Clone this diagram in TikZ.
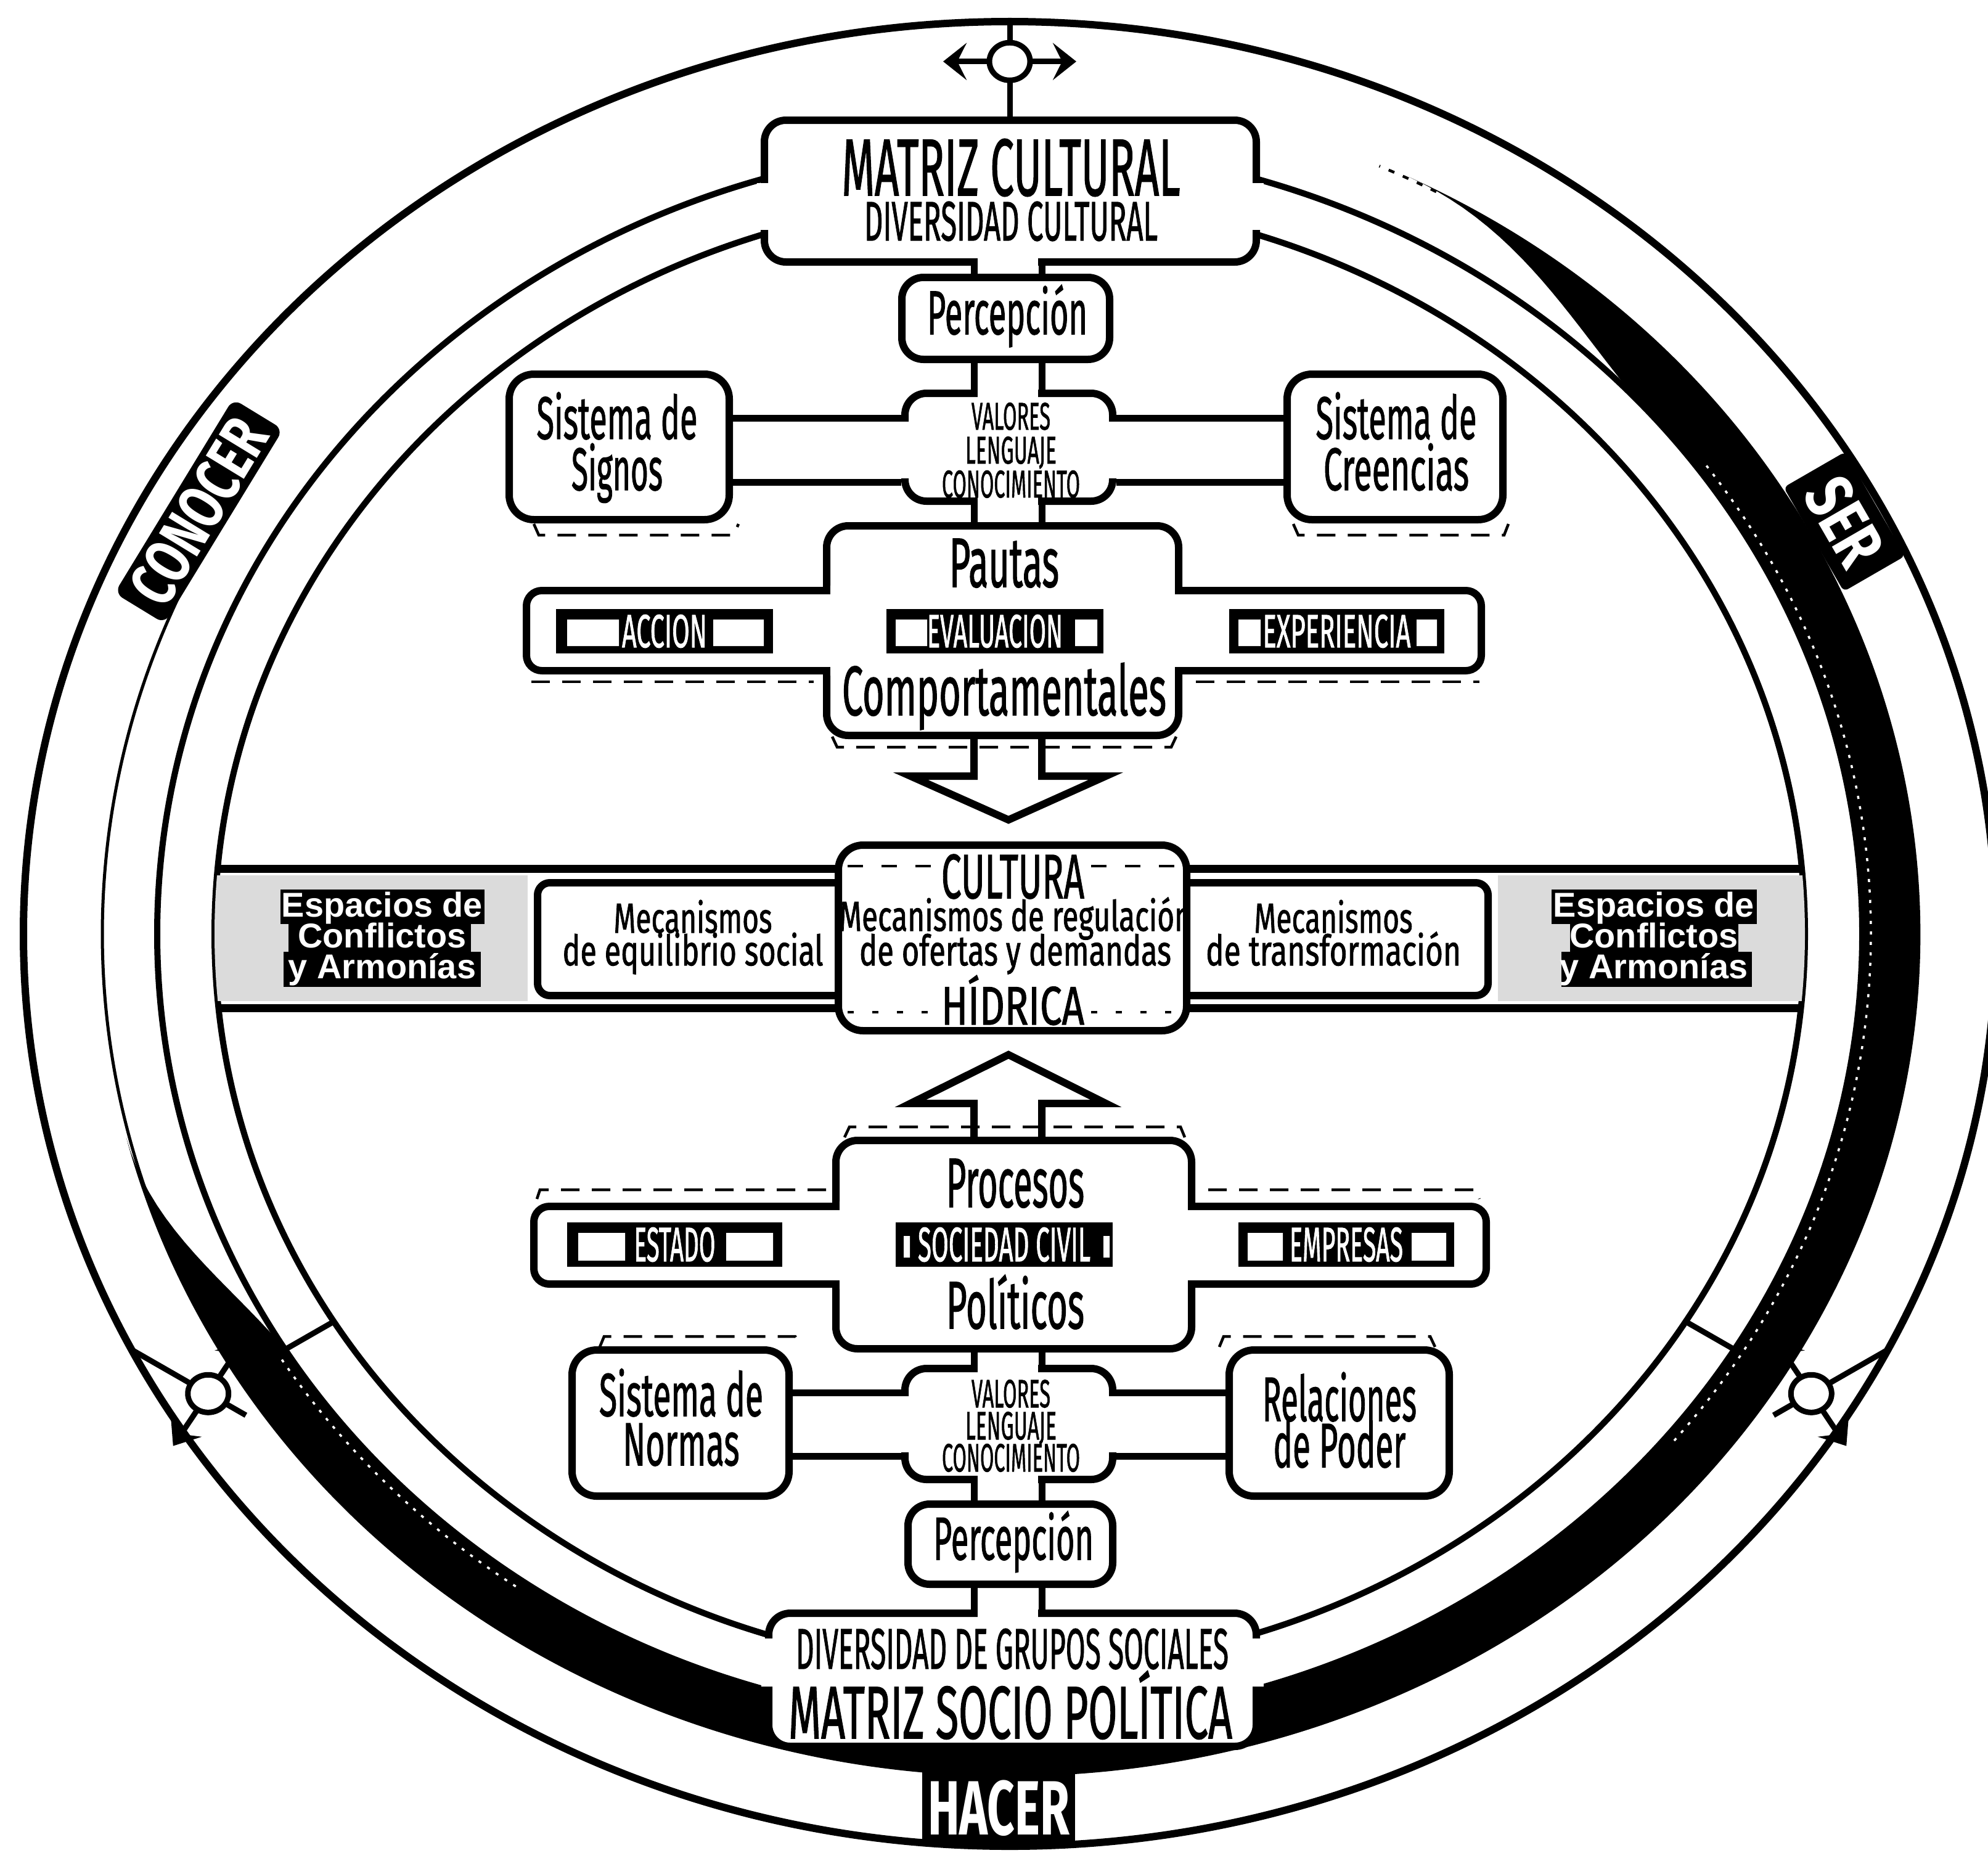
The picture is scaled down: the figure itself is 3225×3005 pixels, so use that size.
\documentclass[tikz,border=0pt]{standalone}
\usepackage{fontspec}
\usepackage{graphicx}
\setmainfont{Fira Sans}
\newfontfamily\cf[FakeBold=1.5]{Fira Sans}
\newfontfamily\arialf{Liberation Sans}
\usetikzlibrary{arrows.meta}
\newcommand\T[3]{\resizebox{#1mm}{\height}{\fontsize{#2pt}{#2pt}\selectfont\cf #3}}
\newcommand\TB[3]{\resizebox{#1mm}{\height}{\fontsize{#2pt}{#2pt}\selectfont\bfseries #3}}
\newcommand\mls[1]{\lineskiplimit=-100pt\baselineskip=#1\relax}
\begin{document}
\begin{tikzpicture}[x=0.1mm,y=-0.1mm,
  declare function={tA(\vv)=min(1,max(0,(64-\vv)/24)); tB(\vv)=min(1,max(0,(\vv+166)/20)); sm(\zz)=0.5-0.5*cos(180*\zz); tp(\vv)=sm(tA(\vv))*sm(tB(\vv));},
  box/.style={draw, fill=white, line width=1.2mm, rounded corners=3.5mm, inner sep=0pt},
  tag/.style={fill=black, text=white, inner sep=0pt, minimum height=7.2mm},
  tx/.style={inner sep=0pt, anchor=base},
  ml/.style={inner sep=0pt, anchor=base, align=center},
  pipe/.style={line width=1.1mm},
  ringl/.style={line width=1.0mm},
  shad/.style={line width=0.45mm, dash pattern=on 3mm off 2mm},
  sym/.style={line width=0.9mm},
  dbl/.style={line width=0.9mm, -{Stealth[length=3.8mm,width=6mm,inset=1.5mm]}},
]
\fill[white] (0,0) rectangle (3225,3005);
\useasboundingbox (0,0) rectangle (3225,3005);

% ---------------- ring ----------------
\begin{scope}[shift={(1638,1515)}, yscale=-0.925]
  \draw[line width=1.2mm] (0,0) circle (1600);
  \draw[ringl] (0,0) circle (1383);
  \draw[ringl] (0,0) circle (1290);
  \fill (64:1477) arc[start angle=64, end angle=-166, radius=1477] -- plot[domain=-166:64, samples=231] ({\x}:{1477-97*tp(\x)}) -- cycle;
  \draw[white, line width=0.35mm, dash pattern=on 0.5mm off 1.2mm] (36:1397) arc[start angle=36, end angle=-40, radius=1397];
  \draw[white, line width=0.35mm, dash pattern=on 0.5mm off 1.2mm] (-125:1397) arc[start angle=-125, end angle=-148, radius=1397];
  \draw[line width=0.5mm] (-160:1472) arc[start angle=-160, end angle=-205, radius=1472];
  \draw[line width=0.45mm, dash pattern=on 1mm off 1.5mm] (62:1474) arc[start angle=62, end angle=66, radius=1474];
  \draw[line width=0.9mm] (-31.8:1290) -- (-31.8:1383);
  \draw[line width=0.9mm] (-148.2:1290) -- (-148.2:1383);
  \foreach \ang/\nm in {90/symT, -148.2/symL, -31.8/symR} {
    \begin{scope}[shift={(\ang:1530)}, rotate=\ang-90]
      \draw[sym] (0,-150) -- (0,72);
      \draw[sym, fill=white] (0,0) circle (33);
      \draw[dbl] (33,0) -- (108,0);
      \draw[dbl] (-33,0) -- (-108,0);
      \coordinate (\nm) at (0,0);
    \end{scope}
  }
  \node[fill=black, text=white, rounded corners=1.5mm, minimum width=36.9mm, minimum height=9.5mm, inner sep=0pt, rotate=58.6] (conocer) at (150.6:1510) {\TB{33}{29.7}{CONOCER}};
  \node[fill=black, text=white, rounded corners=0.8mm, minimum width=19.5mm, minimum height=11.5mm, inner sep=0pt, rotate=-60] (ser) at (28.1:1535) {\TB{14.5}{31}{SER}};
\end{scope}

% ---------------- central band ----------------
\begin{scope}
  \clip[shift={(1638,1515)}, yscale=-0.925] (0,0) circle (1290);
  \fill[black!14] (300,1420) rectangle (856,1624);
  \fill[black!14] (2430,1420) rectangle (2980,1624);
  \draw[line width=1.3mm] (300,1409) -- (2980,1409);
  \draw[line width=1.3mm] (300,1635) -- (2980,1635);
\end{scope}
\node[box, rounded corners=2mm, minimum width=154.2mm, minimum height=18.3mm] (mec) at (1643,1523.5) {};
\node[box, rounded corners=4mm, minimum width=56.5mm, minimum height=30.1mm] (cult) at (1642.5,1521.5) {};
\draw[line width=0.4mm, dash pattern=on 2.5mm off 3mm] (1375,1405) -- (1515,1405) (1770,1405) -- (1910,1405);
\draw[line width=0.4mm, dash pattern=on 1mm off 3mm] (1375,1642) -- (1515,1642) (1770,1642) -- (1910,1642);

% ---------------- boxes ----------------
\node[box, minimum width=79.8mm, minimum height=23mm] (matC) at (1639,310) {};
\node[box, minimum width=33.7mm, minimum height=13.3mm] (percT) at (1631.5,516.5) {};
\node[box, minimum width=33.7mm, minimum height=17.5mm] (valT) at (1636.5,725.5) {};
\node[box, rounded corners=4mm, minimum width=35.7mm, minimum height=23.6mm] (signos) at (1004.5,725) {};
\node[box, rounded corners=4mm, minimum width=35mm, minimum height=23.6mm] (creen) at (2263,725) {};
\node[box, minimum width=57.1mm, minimum height=34mm] (pautasV) at (1626.5,1023) {};
\node[box, rounded corners=2.5mm, minimum width=154.9mm, minimum height=13mm] (pautasH) at (1628.5,1023) {};
\fill[white] (1347,950) rectangle (1906,966);
\fill[white] (1347,1080) rectangle (1906,1096);
\fill[white] (1333,965) rectangle (1349,1081);
\fill[white] (1904,965) rectangle (1920,1081);
\node[box, minimum width=57.7mm, minimum height=33.8mm] (procV) at (1644.5,2019) {};
\node[box, rounded corners=2.5mm, minimum width=154.5mm, minimum height=12.6mm] (procH) at (1638.5,2020) {};
\fill[white] (1362,1949) rectangle (1927,1965);
\fill[white] (1362,2075) rectangle (1927,2091);
\fill[white] (1348,1964) rectangle (1364,2076);
\fill[white] (1925,1964) rectangle (1941,2076);
\node[box, minimum width=33.7mm, minimum height=18mm] (valB) at (1636.5,2310) {};
\node[box, rounded corners=4mm, minimum width=35.2mm, minimum height=23.7mm] (normas) at (1104,2308.5) {};
\node[box, rounded corners=4mm, minimum width=35.7mm, minimum height=23.7mm] (relac) at (2172.5,2308.5) {};
\node[box, minimum width=33.2mm, minimum height=13mm] (percB) at (1639,2505) {};
\node[box, minimum width=79.1mm, minimum height=21.6mm] (matS) at (1642.5,2725) {};
\node[fill=black, text=white, minimum width=24.8mm, minimum height=12.3mm, inner sep=0pt] (hacer) at (1620,2933) {\TB{23}{35.5}{HACER}};

% openings
\fill[white] (1586,415) rectangle (1684,436);
\fill[white] (1228,297) rectangle (1252,373);
\fill[white] (2026,297) rectangle (2050,373);
\fill[white] (1586,630) rectangle (1684,647);
\fill[white] (1586,804) rectangle (1684,821);
\fill[white] (1460,684) rectangle (1477,776);
\fill[white] (1796,684) rectangle (1813,776);
\fill[white] (1586,2212) rectangle (1684,2229);
\fill[white] (1586,2391) rectangle (1684,2408);
\fill[white] (1460,2265) rectangle (1477,2356);
\fill[white] (1796,2265) rectangle (1813,2356);
\fill[white] (1586,2608) rectangle (1684,2626);
\fill[white] (1235,2658) rectangle (1259,2736);
\fill[white] (2026,2658) rectangle (2050,2736);

% ---------------- pipes ----------------
\coordinate (pL) at (1580,0); \coordinate (pR) at (1690,0);
\coordinate (hA) at (0,678); \coordinate (hB) at (0,782);
\coordinate (hC) at (0,2259); \coordinate (hD) at (0,2362);
\foreach \a/\b in {matC/percT, percT/valT, valT/pautasV, procV/valB, valB/percB, percB/matS} {
  \draw[pipe] (\a.south -| pL) -- (\b.north -| pL);
  \draw[pipe] (\a.south -| pR) -- (\b.north -| pR);
}
\foreach \h in {hA,hB} {
  \draw[pipe] (signos.east |- \h) -- (valT.west |- \h);
  \draw[pipe] (valT.east |- \h) -- (creen.west |- \h);
}
\foreach \h in {hC,hD} {
  \draw[pipe] (normas.east |- \h) -- (valB.west |- \h);
  \draw[pipe] (valB.east |- \h) -- (relac.west |- \h);
}
\draw[line width=1.2mm, line join=miter] (pautasV.south -| pL) -- (1580,1259) -- (1477,1259) -- (1636,1330) -- (1794,1259) -- (1690,1259) -- (pautasV.south -| pR);
\draw[line width=1.2mm, line join=miter] (procV.north -| pL) -- (1580,1790) -- (1477,1790) -- (1636,1711) -- (1794,1790) -- (1690,1790) -- (procV.north -| pR);

% ---------------- shadows ----------------
\draw[shad] (866,850) -- (874,868) -- (1190,868) -- (1198,850);
\draw[shad] (2098,850) -- (2106,868) -- (2440,868) -- (2447,850);
\draw[shad] (862,1106) -- (1320,1106);
\draw[shad] (1940,1106) -- (2400,1106);
\draw[shad] (1350,1195) -- (1358,1212) -- (1900,1212) -- (1908,1195);
\draw[shad] (1370,1845) -- (1378,1828) -- (1915,1828) -- (1922,1845);
\draw[shad] (871,1945) -- (876,1930) -- (1340,1930);
\draw[shad] (1960,1930) -- (2395,1930) -- (2400,1945);
\draw[shad] (973,2185) -- (980,2168) -- (1290,2168) -- (1300,2185);
\draw[shad] (1978,2185) -- (1985,2168) -- (2320,2168) -- (2328,2185);

% ---------------- tags ----------------
\node[tag, minimum width=35.2mm] (acc) at (1078,1024) {\T{13.8}{21.5}{ACCION}};
\node[tag, minimum width=35.2mm] (eva) at (1614,1024) {\T{22}{21.5}{EVALUACION}};
\node[tag, minimum width=34.9mm] (exp) at (2168.5,1024) {\T{24}{21.5}{EXPERIENCIA}};
\fill[white] (920,1005) rectangle (1004,1048) (1157,1005) rectangle (1239,1048);
\fill[white] (1453,1005) rectangle (1504,1048) (1744,1005) rectangle (1780,1048);
\fill[white] (2009,1005) rectangle (2045,1048) (2298,1005) rectangle (2331,1048);
\node[tag, minimum width=34.9mm] (est) at (1094.5,2019) {\T{13.2}{22.3}{ESTADO}};
\node[tag, minimum width=35.2mm] (soc) at (1629,2019) {\T{28}{22.3}{SOCIEDAD CIVIL}};
\node[tag, minimum width=35mm] (emp) at (2184,2019) {\T{18.4}{22.3}{EMPRESAS}};
\fill[white] (938,2000) rectangle (1014,2045) (1178,2000) rectangle (1254,2045);
\fill[white] (1466,2005) rectangle (1476,2040) (1790,2005) rectangle (1800,2040);
\fill[white] (2024,2000) rectangle (2081,2045) (2290,2000) rectangle (2346,2045);

% ---------------- Espacios labels ----------------
\fill (455,1443) rectangle (786,1499);
\fill (468,1494) rectangle (764,1549);
\fill (460,1544) rectangle (780,1601);
\fill (2517,1443) rectangle (2850,1499);
\fill (2547,1494) rectangle (2820,1549);
\fill (2533,1544) rectangle (2842,1601);
\node[ml, text=white, font=\arialf\bfseries\fontsize{15.9pt}{14.2pt}\selectfont\mls{5mm}] (espL) at (620,1587) {Espacios de\\Conflictos\\y Armonías};
\node[ml, text=white, font=\arialf\bfseries\fontsize{15.9pt}{14.2pt}\selectfont\mls{5mm}] (espR) at (2683,1587) {Espacios de\\Conflictos\\y Armonías};

% ---------------- texts ----------------
\node[ml, font=\mls{7.3mm}] (tMatC) at (1640,390) {\T{54.9}{37.2}{MATRIZ CULTURAL}\\\T{47.6}{25.6}{DIVERSIDAD CULTURAL}};
\node[tx] (tPercT) at (1634,542) {\T{26}{28.5}{Percepción}};
\node[ml, font=\mls{8.3mm}] (tSig) at (1001,795) {\T{26.1}{27.7}{Sistema de}\\\T{14.8}{27.7}{Signos}};
\node[ml, font=\mls{8.3mm}] (tCre) at (2265,795) {\T{26.1}{27.7}{Sistema de}\\\T{23.6}{27.7}{Creencias}};
\node[ml, font=\mls{5.5mm}] (tValT) at (1640,807) {\T{12.8}{17.8}{VALORES}\\\T{14.8}{17.8}{LENGUAJE}\\\T{22.4}{17.8}{CONOCIMIENTO}};
\node[tx] (tPau) at (1629,952) {\T{17.8}{32.2}{Pautas}};
\node[tx] (tCom) at (1629,1160) {\T{52.6}{32.2}{Comportamentales}};
\node[tx] (tCul) at (1643,1457) {\T{23.2}{28.9}{CULTURA}};
\node[ml, font=\mls{5.6mm}] (tReg) at (1647,1566) {\T{57.2}{19.4}{Mecanismos de regulación}\\\T{50.6}{19.4}{de ofertas y demandas}};
\node[tx] (tHid) at (1643,1662) {\T{23.2}{25}{HÍDRICA}};
\node[ml, font=\mls{5.3mm}] (tEq) at (1124,1566) {\T{25.7}{19.4}{Mecanismos}\\\T{42.3}{19.4}{de equilibrio social}};
\node[ml, font=\mls{5.3mm}] (tTr) at (2163,1566) {\T{25.7}{19.4}{Mecanismos}\\\T{41.4}{19.4}{de transformación}};
\node[tx] (tPro) at (1647,1958) {\T{22.4}{32.2}{Procesos}};
\node[tx] (tPol) at (1647,2155) {\T{22.4}{31}{Políticos}};
\node[ml, font=\mls{5.2mm}] (tValB) at (1640,2387) {\T{12.8}{18.2}{VALORES}\\\T{14.8}{18.2}{LENGUAJE}\\\T{22.4}{18.2}{CONOCIMIENTO}};
\node[ml, font=\mls{8mm}] (tNor) at (1105,2377) {\T{26.6}{28}{Sistema de}\\\T{18.9}{28}{Normas}};
\node[ml, font=\mls{7.5mm}] (tRel) at (2173,2380) {\T{25}{28.9}{Relaciones}\\\T{21.5}{28.9}{de Poder}};
\node[tx] (tPercB) at (1644,2530) {\T{26}{28}{Percepción}};
\node[tx] (tDivG) at (1642,2707) {\T{70.2}{26.4}{DIVERSIDAD DE GRUPOS SOCIALES}};
\node[tx] (tMatS) at (1639,2820) {\T{72}{34.3}{MATRIZ SOCIO POLÍTICA}};
\end{tikzpicture}
\end{document}
